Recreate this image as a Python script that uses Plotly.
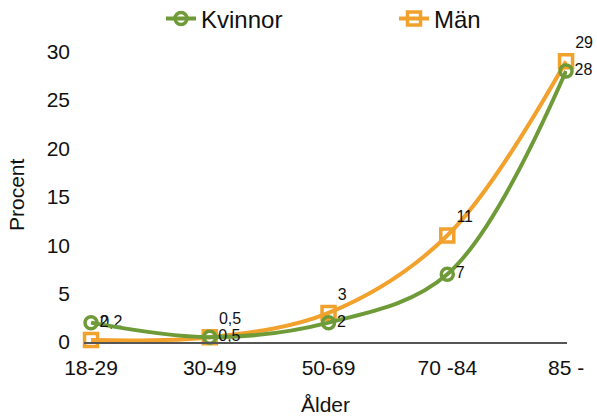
import plotly.graph_objects as go

# Age groups and share (%) per group
ages = ["18-29", "30-49", "50-69", "70 -84", "85 -"]
kvinnor = [2, 0.5, 2, 7, 28]
man = [0.2, 0.5, 3, 11, 29]
y_ticks = [0, 5, 10, 15, 20, 25, 30]

GREEN = "#6E9B38"
ORANGE = "#F2A12C"
INK = "#111111"
FONT = "Liberation Sans, Arial, Helvetica, sans-serif"

W, H = 597, 418
L, R, T, B = 84, 30, 42, 76
PLOT_W = W - L - R


def fmt(v):
    # Swedish decimal comma
    return f"{v:g}".replace(".", ",")


fig = go.Figure()

# Men first so the women's curve is drawn on top where they meet
fig.add_trace(go.Scatter(
    x=ages, y=man, name="Män", legend="legend2",
    mode="lines+markers+text",
    line=dict(color=ORANGE, width=4, shape="spline", smoothing=1),
    marker=dict(symbol="square-open", size=13, color=ORANGE,
                line=dict(width=3.5, color=ORANGE)),
    text=[fmt(v) for v in man],
    textposition="top right",
    textfont=dict(family=FONT, size=16, color=INK),
    cliponaxis=False,
))

fig.add_trace(go.Scatter(
    x=ages, y=kvinnor, name="Kvinnor", legend="legend",
    mode="lines+markers+text",
    line=dict(color=GREEN, width=4, shape="spline", smoothing=1),
    marker=dict(symbol="circle-open", size=12, color=GREEN,
                line=dict(width=3.5, color=GREEN)),
    text=[fmt(v) for v in kvinnor],
    textposition="middle right",
    textfont=dict(family=FONT, size=16, color=INK),
    cliponaxis=False,
))

legend_style = dict(
    orientation="h", xref="container", yref="container",
    xanchor="left", yanchor="middle",
    font=dict(family=FONT, size=24, color=INK),
    itemwidth=30, bgcolor="rgba(0,0,0,0)",
)

fig.update_layout(
    width=W, height=H,
    margin=dict(l=L, r=R, t=T, b=B),
    paper_bgcolor="white", plot_bgcolor="white",
    font=dict(family=FONT, size=21, color=INK),
    showlegend=True,
    legend=dict(x=161 / W, y=1 - 19 / H, **legend_style),
    legend2=dict(x=394 / W, y=1 - 19 / H, **legend_style),
    xaxis=dict(
        type="category",
        range=[-0.059, 4.008],
        showgrid=False, zeroline=False,
        showline=True, linecolor="#555", linewidth=1.5,
        ticks="", ticklabelstandoff=6,
        tickfont=dict(family=FONT, size=21, color=INK),
        title=dict(text="Ålder", standoff=19,
                   font=dict(family=FONT, size=21, color=INK)),
        automargin=False,
    ),
    yaxis=dict(
        range=[0, 31],
        tickvals=y_ticks,
        showgrid=False, zeroline=False, showline=False,
        ticks="", ticklabelstandoff=13,
        tickfont=dict(family=FONT, size=21, color=INK),
        automargin=False,
    ),
    annotations=[dict(
        text="Procent", textangle=-90,
        xref="paper", yref="paper", x=(16 - L) / PLOT_W, y=0.49,
        xanchor="center", yanchor="middle", showarrow=False,
        font=dict(family=FONT, size=21, color=INK),
    )],
)

fig.write_html("out.html")
